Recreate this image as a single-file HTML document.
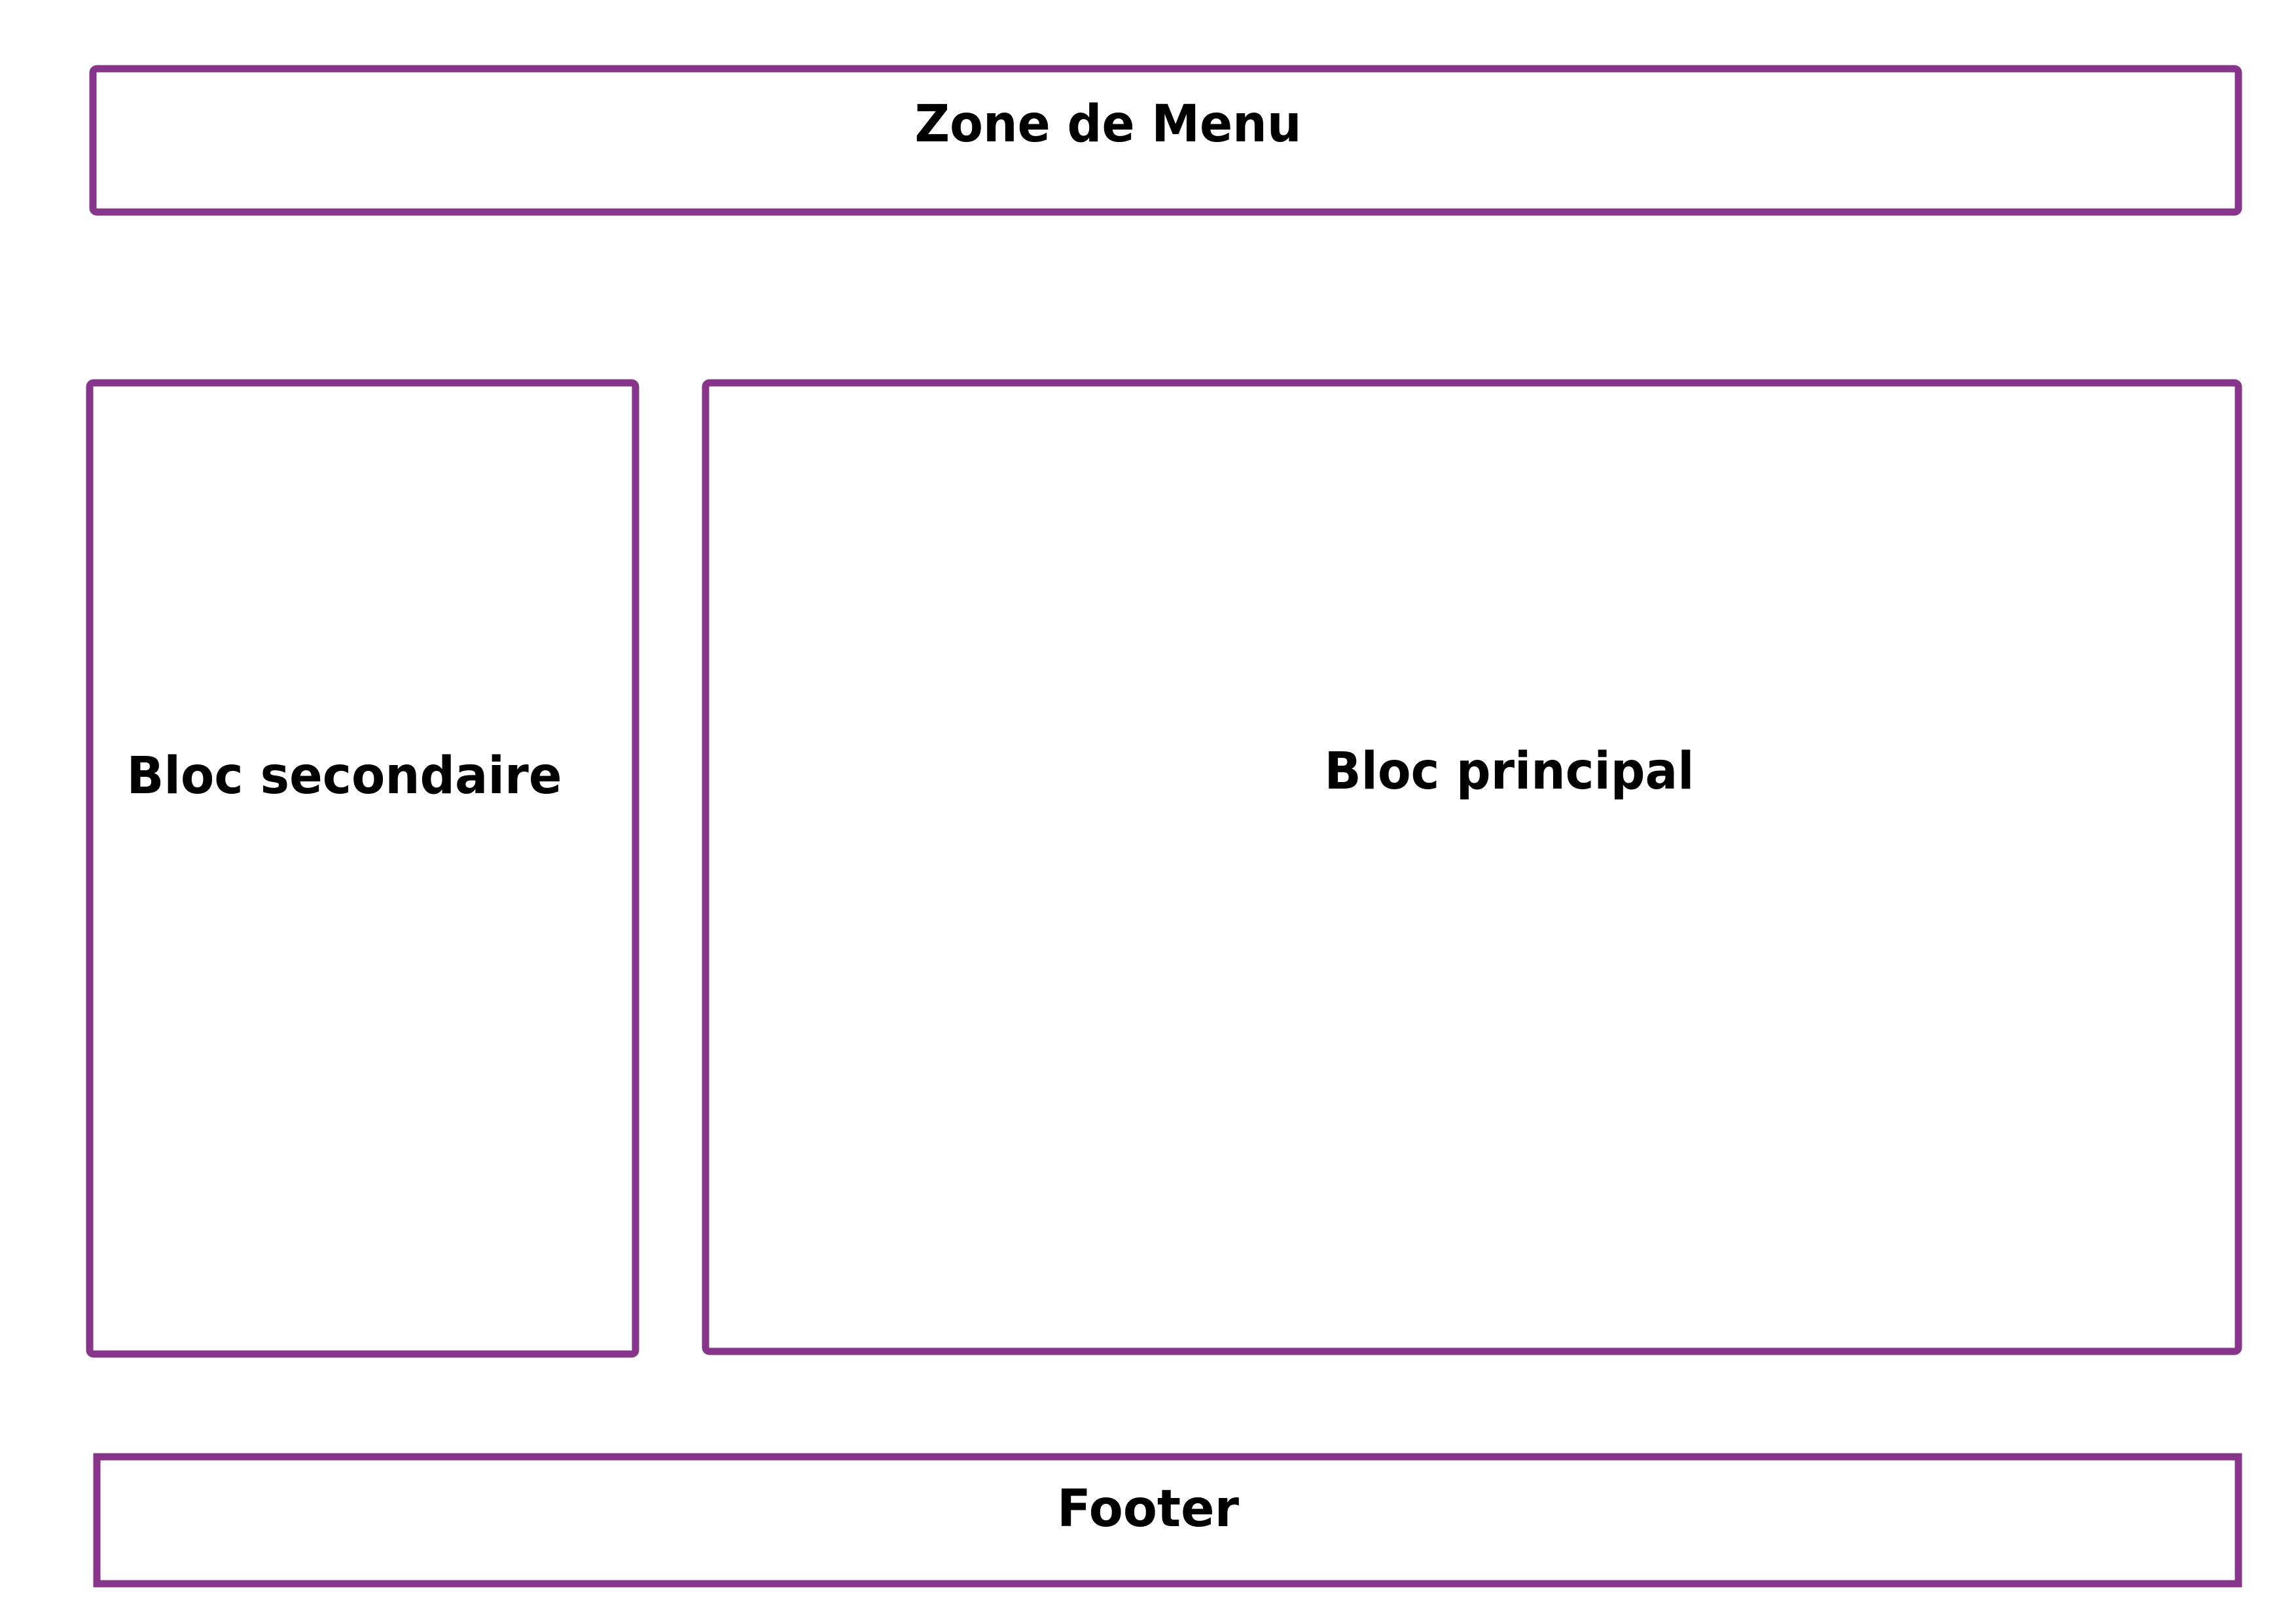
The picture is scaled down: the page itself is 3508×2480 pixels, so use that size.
<!DOCTYPE html>
<html><head><meta charset="utf-8"><style>
html,body{margin:0;padding:0;background:#fff;width:3508px;height:2480px;overflow:hidden}
svg{display:block}
text{font-family:"DejaVu Sans","Liberation Sans",sans-serif;font-weight:bold;fill:#000;font-size:78px}
</style></head><body>
<svg width="3508" height="2480" viewBox="0 0 3508 2480">
<g fill="none" stroke="#87358a" stroke-linejoin="round">
<rect x="142" y="105" width="3278" height="219" rx="6" stroke-width="11"/>
<rect x="137" y="585" width="834" height="1484" rx="6" stroke-width="11"/>
<rect x="1078" y="585" width="2342" height="1480" rx="6" stroke-width="11"/>
<rect x="148" y="2226" width="3272" height="194" stroke-width="11" stroke-linejoin="miter"/>
</g>
<text x="1693" y="216" text-anchor="middle" textLength="591" lengthAdjust="spacingAndGlyphs">Zone de Menu</text>
<text x="526" y="1212" text-anchor="middle" textLength="665" lengthAdjust="spacingAndGlyphs">Bloc secondaire</text>
<text x="2306" y="1205" text-anchor="middle" textLength="565" lengthAdjust="spacingAndGlyphs">Bloc principal</text>
<text x="1754" y="2332" text-anchor="middle" textLength="278" lengthAdjust="spacingAndGlyphs">Footer</text>
</svg>
</body></html>
